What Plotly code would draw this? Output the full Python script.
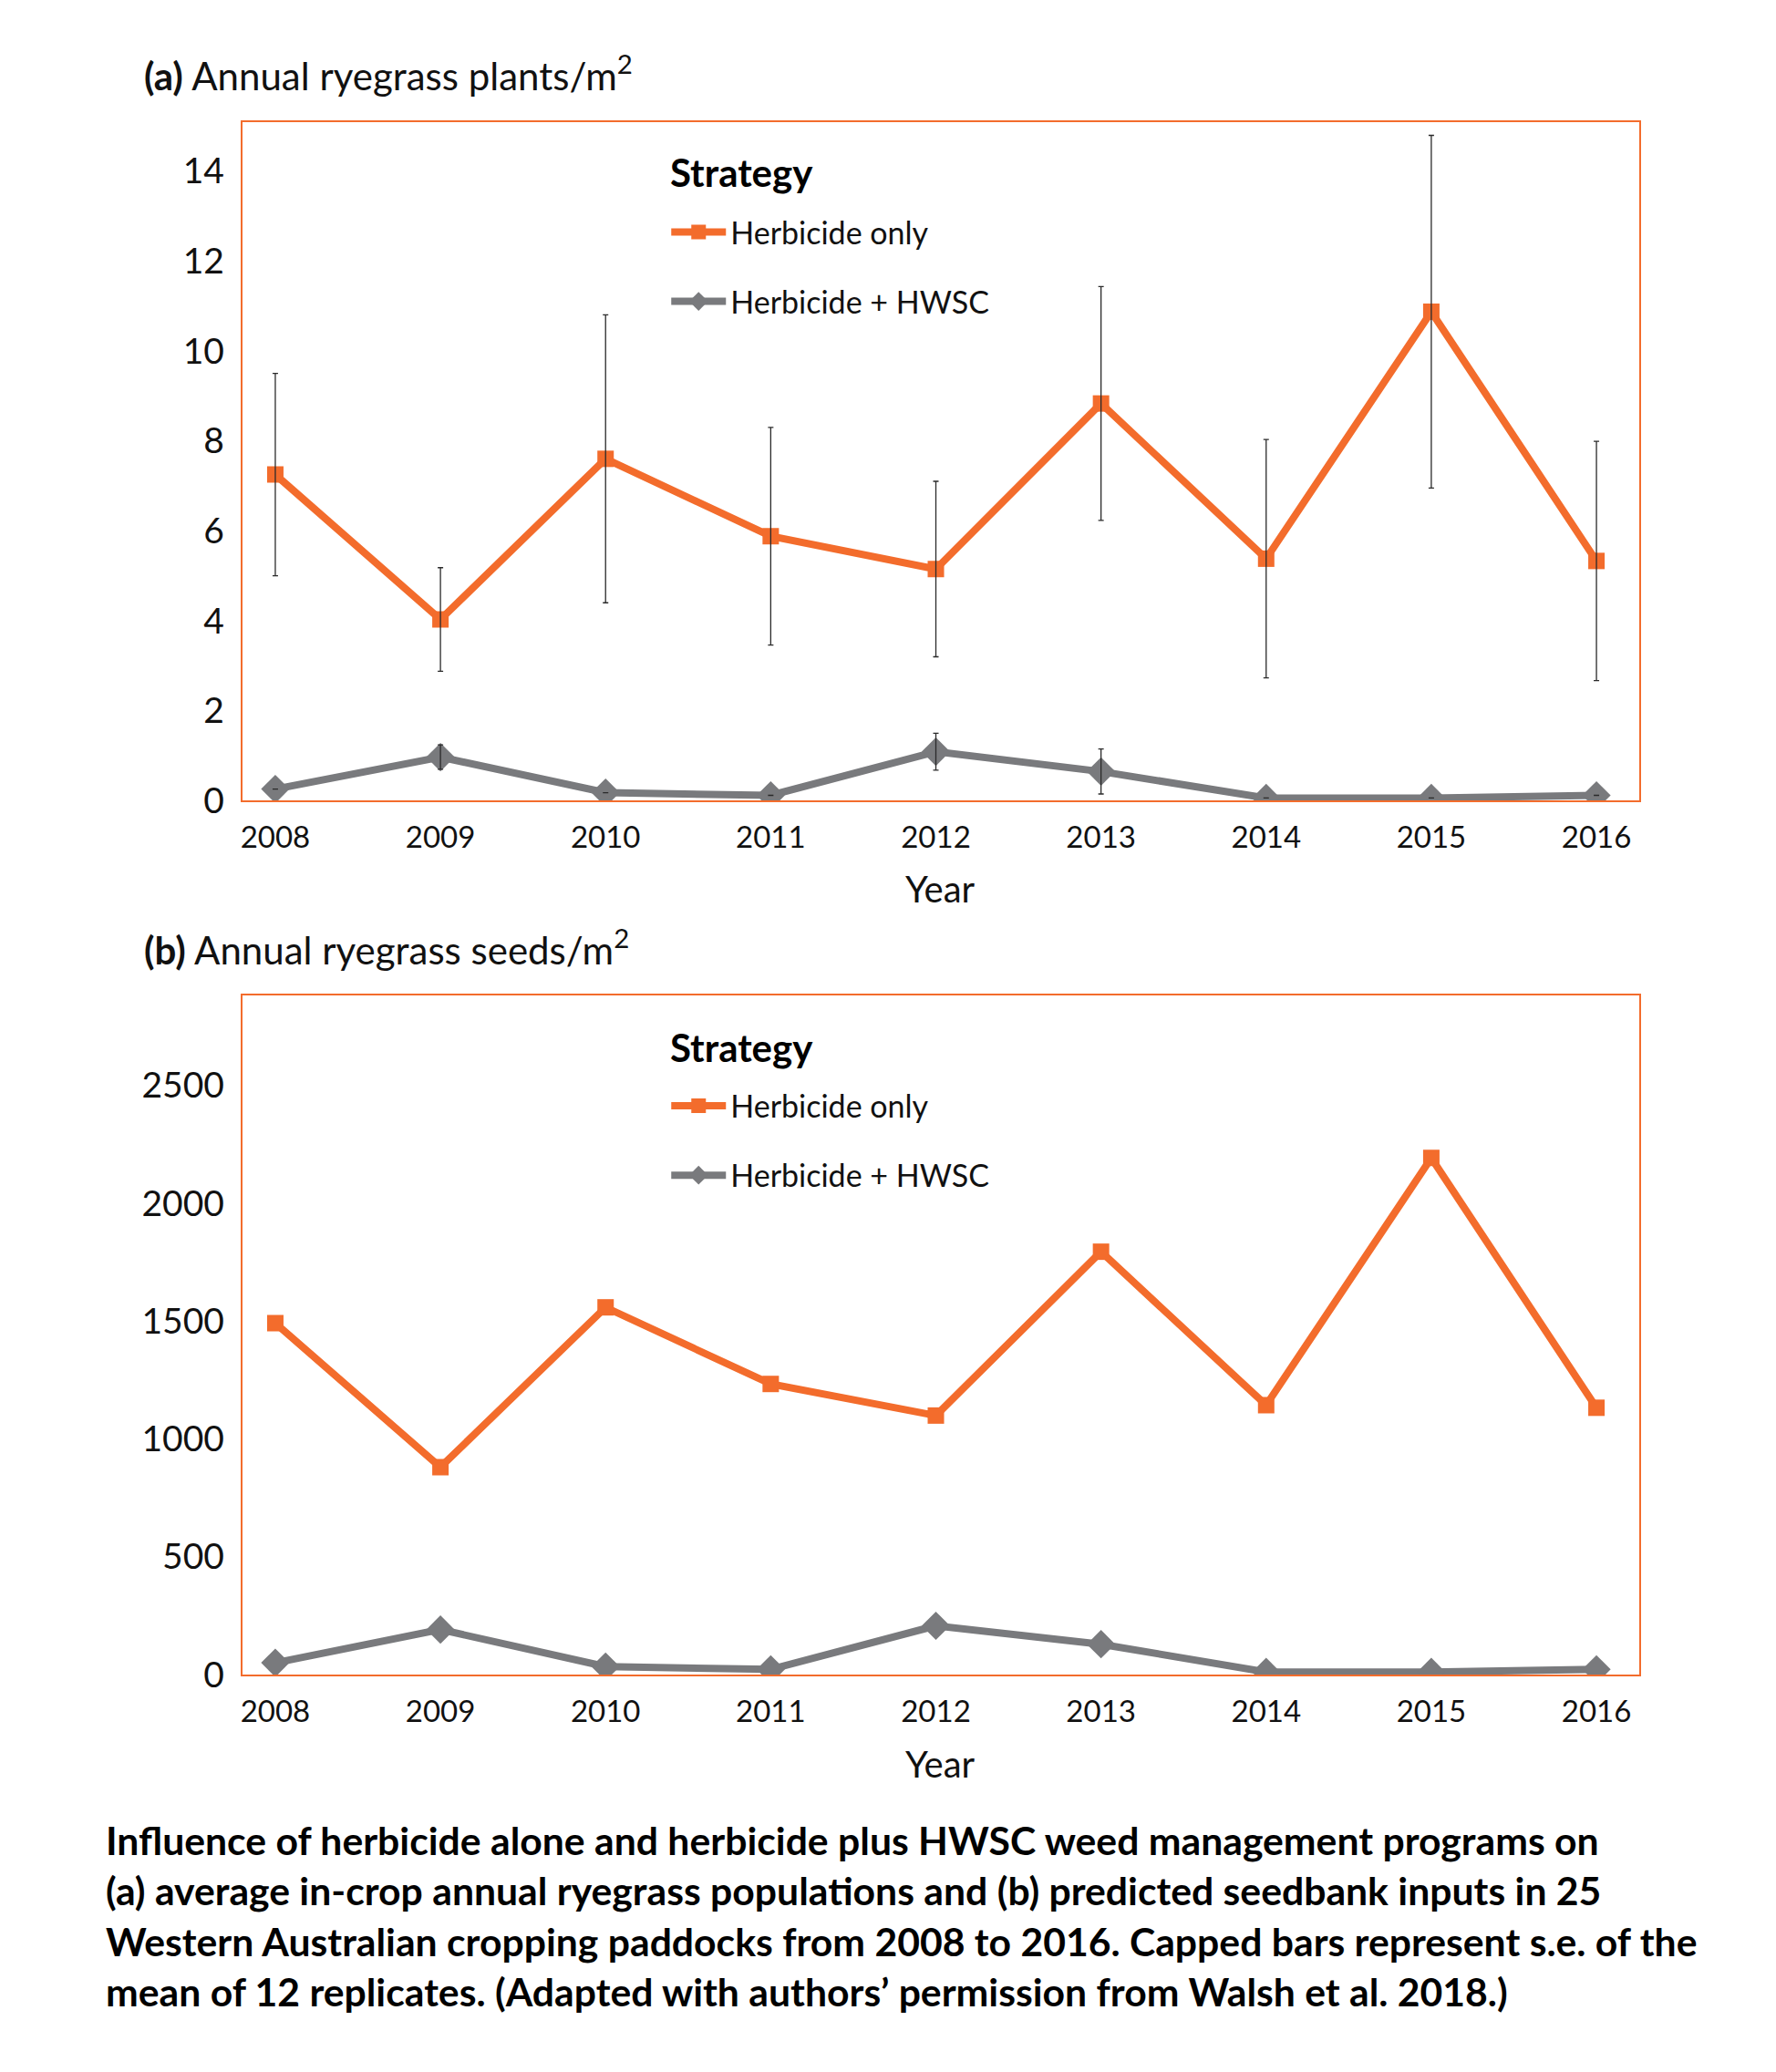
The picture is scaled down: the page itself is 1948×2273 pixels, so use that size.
import plotly.graph_objects as go

years = [2008, 2009, 2010, 2011, 2012, 2013, 2014, 2015, 2016]

# (a) plants/m2
plants_herb = [7.25, 4.03, 7.6, 5.88, 5.15, 8.83, 5.38, 10.87, 5.33]
plants_herb_se = [2.25, 1.15, 3.2, 2.42, 1.95, 2.6, 2.65, 3.92, 2.66]
plants_hwsc = [0.26, 0.97, 0.18, 0.12, 1.09, 0.65, 0.06, 0.06, 0.12]
plants_hwsc_se = [None, 0.27, None, None, 0.41, 0.5, None, None, None]

# (b) seeds/m2
seeds_herb = [1491, 880, 1558, 1233, 1099, 1794, 1143, 2192, 1132]
seeds_hwsc = [50, 191, 34, 22, 207, 129, 11, 11, 22]

yticks_a = [0, 2, 4, 6, 8, 10, 12, 14]
yticks_b = [0, 500, 1000, 1500, 2000, 2500]

caption_lines = [
    "Influence of herbicide alone and herbicide plus HWSC weed management programs on",
    "(a) average in-crop annual ryegrass populations and (b) predicted seedbank inputs in 25",
    "Western Australian cropping paddocks from 2008 to 2016. Capped bars represent s.e. of the",
    "mean of 12 replicates. (Adapted with authors\u2019 permission from Walsh et al. 2018.)",
]

ORANGE = "#F36C2C"
GRAY = "#797A7D"
FONT = "Lato"
W, H = 1948, 2273

def py(px):
    return 1 - px / H

fig = go.Figure()

def add_series(y, name, color, symbol, msize, xa, ya, legend, group):
    fig.add_trace(go.Scatter(
        x=years, y=y, name=name, mode="lines+markers",
        line=dict(color=color, width=8),
        marker=dict(symbol=symbol, size=msize, color=color),
        xaxis=xa, yaxis=ya, legend=legend, legendgroup=group, showlegend=True,
    ))

def add_err(y, se, xa, ya, color="#2A2A2A"):
    fig.add_trace(go.Scatter(
        x=years, y=y, mode="markers", marker=dict(size=1, color="rgba(0,0,0,0)"),
        error_y=dict(type="data", array=se, visible=True, color=color, thickness=1.3, width=3),
        xaxis=xa, yaxis=ya, showlegend=False, hoverinfo="skip",
    ))

add_series(plants_herb, "Herbicide only", ORANGE, "square", 18, "x", "y", "legend", "g1")
add_series(plants_hwsc, "Herbicide + HWSC", GRAY, "diamond", 24, "x", "y", "legend", "g2")
add_err(plants_herb, plants_herb_se, "x", "y")
add_err(plants_hwsc, plants_hwsc_se, "x", "y")

add_series(seeds_herb, "Herbicide only", ORANGE, "square", 18, "x2", "y2", "legend2", "h1")
add_series(seeds_hwsc, "Herbicide + HWSC", GRAY, "diamond", 24, "x2", "y2", "legend2", "h2")

xdom = [264 / W, 1798 / W]
common_x = dict(
    range=[2007.8, 2016.26], tickvals=years, showgrid=False, zeroline=False,
    showline=True, mirror=True, linecolor=ORANGE, linewidth=2, ticks="",
    tickfont=dict(family=FONT, size=33, color="#111111"), ticklabelstandoff=10,
    domain=xdom,
)
common_y = dict(
    showgrid=False, zeroline=False, showline=True, mirror=True, linecolor=ORANGE,
    linewidth=2, ticks="", tickfont=dict(family=FONT, size=39, color="#111111"),
    ticklabelstandoff=10,
)

leg_common = dict(
    font=dict(family=FONT, size=34, color="#111111"),
    traceorder="grouped", tracegroupgap=29, bgcolor="rgba(0,0,0,0)",
    itemwidth=60, xanchor="left", yanchor="top",
)

fig.update_layout(
    width=W, height=H, margin=dict(l=0, r=0, t=0, b=0),
    paper_bgcolor="white", plot_bgcolor="white",
    xaxis=dict(**common_x, anchor="y"),
    yaxis=dict(**common_y, range=[0, 15.08], tickvals=yticks_a,
               domain=[py(887), py(135.5)], anchor="x"),
    xaxis2=dict(**common_x, anchor="y2"),
    yaxis2=dict(**common_y, range=[0, 2880], tickvals=yticks_b,
                domain=[py(1855), py(1103)], anchor="x2"),
    legend=dict(**leg_common, x=730 / W, y=py(228)),
    legend2=dict(**leg_common, x=730 / W, y=py(1196)),
)

annotations = [
    dict(text="<b>(a)</b> Annual ryegrass plants/m<sup>2</sup>", x=154 / W, y=py(81),
         xanchor="left", yanchor="middle", font=dict(family=FONT, size=42, color="#111111")),
    dict(text="<b>(b)</b> Annual ryegrass seeds/m<sup>2</sup>", x=154 / W, y=py(1049),
         xanchor="left", yanchor="middle", font=dict(family=FONT, size=42, color="#111111")),
    dict(text="<b>Strategy</b>", x=732 / W, y=py(191), xanchor="left", yanchor="middle",
         font=dict(family=FONT, size=42, color="#000000")),
    dict(text="<b>Strategy</b>", x=732 / W, y=py(1160), xanchor="left", yanchor="middle",
         font=dict(family=FONT, size=42, color="#000000")),
    dict(text="Year", x=1031 / W, y=py(985), xanchor="center", yanchor="middle",
         font=dict(family=FONT, size=40, color="#111111")),
    dict(text="Year", x=1031 / W, y=py(1954), xanchor="center", yanchor="middle",
         font=dict(family=FONT, size=40, color="#111111")),
]
for i, line in enumerate(caption_lines):
    annotations.append(dict(
        text="<b>" + line + "</b>", x=112 / W, y=py(2038 + 56 * i),
        xanchor="left", yanchor="middle", align="left",
        font=dict(family=FONT, size=42.7, color="#000000"),
    ))
for a in annotations:
    a.update(xref="paper", yref="paper", showarrow=False)
fig.update_layout(annotations=annotations)

fig.write_html("out.html", config={"displayModeBar": False},
               post_script="document.body.style.margin='0';")
